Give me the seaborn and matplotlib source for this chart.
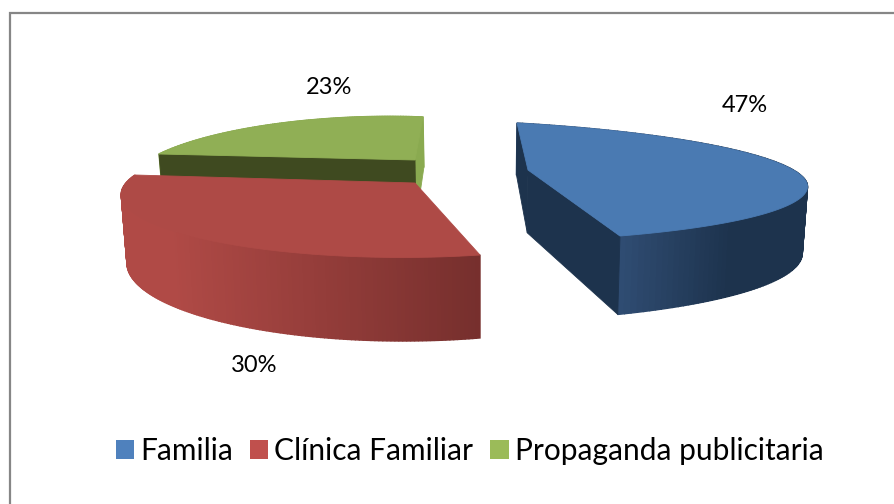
import numpy as np
import seaborn as sns
import matplotlib.pyplot as plt
from matplotlib.colors import LinearSegmentedColormap
from matplotlib.patches import Patch, Polygon

categories = ['Familia', 'Clínica Familiar', 'Propaganda publicitaria']
shares = [47, 30, 23]

sns.set_theme(style='white')
plt.rcParams['font.family'] = ['Lato', 'DejaVu Sans']
palette = sns.color_palette(['#4F81BD', '#C0504D', '#9BBB59'])

EXPLODE = 0.28
# where each slice lands on the page: apex, theta2 end, theta1 end, middle of the arc
view_anchors = [[(528, 170), (517, 123), (620, 236), (795, 171)],
                [(415, 183), (480, 255), (135, 175), (191, 236)],
                [(415, 160), (159, 154), (423, 117), (290, 122)]]
top_colors = ['#4A7AB2', '#AE4A46', '#90AF55']
inner_colors = ['#1D334D', '#AE4A46', '#3F4A20']
end_colors = ['#1D334D', '#AE4A46', '#8AAA50']
wall_ramps = [('#2F4C72', '#1D334D', 620, 730),
              ('#B04A46', '#762F2D', 170, 480),
              ('#8AAA50', '#8AAA50', 0, 895)]

fig = plt.figure(figsize=(8.95, 5.04), dpi=100)
ax = fig.add_axes([0, 0, 1, 1])
ax.set_xlim(0, 895)
ax.set_ylim(504, 0)
ax.axis('off')

# pie is laid out flat on a hidden axes, then projected on the page
pie_ax = fig.add_axes([0, 0, 1, 1])
wedges, _ = pie_ax.pie(shares, startangle=90, counterclock=False, explode=[EXPLODE] * 3)
pie_ax.set_visible(False)


def on_arc(w, deg):
    a = np.radians(deg)
    return np.array(w.center) + w.r * np.c_[np.cos(a), np.sin(a)]


def fit_view(src, dst):
    rows = []
    for (x, y), (u, v) in zip(src, dst):
        rows.append([x, y, 1, 0, 0, 0, -u * x, -u * y, -u])
        rows.append([0, 0, 0, x, y, 1, -v * x, -v * y, -v])
    return np.linalg.svd(np.array(rows))[2][-1].reshape(3, 3)


def project(H, xy):
    xy = np.atleast_2d(xy)
    out = np.c_[xy, np.ones(len(xy))] @ H.T
    return out[:, :2] / out[:, 2:]


HORIZON = -95
DEPTH = 0.237
NADIR_X = 480
LEAN = 0.016


def drop(pts):
    # same points on the underside of the slab
    low = pts.copy()
    low[:, 1] += DEPTH * (pts[:, 1] - HORIZON)
    low[:, 0] += LEAN * (NADIR_X - pts[:, 0])
    return low


for i in [2, 1, 0]:
    w = wedges[i]
    src = [w.center, on_arc(w, [w.theta2])[0], on_arc(w, [w.theta1])[0],
           on_arc(w, [(w.theta1 + w.theta2) / 2])[0]]
    H = fit_view(src, view_anchors[i])

    top = project(H, on_arc(w, np.linspace(w.theta1, w.theta2, 160)))
    low = drop(top)
    apex = project(H, w.center)
    apex_low = drop(apex)

    c0, c1, x0, x1 = wall_ramps[i]
    ramp = LinearSegmentedColormap.from_list('wall', [c0, c1])
    for j in range(len(top) - 1):
        quad = [top[j], top[j + 1], low[j + 1], low[j]]
        tone = ramp(np.clip((top[j, 0] - x0) / (x1 - x0), 0, 1))
        ax.add_patch(Polygon(quad, fc=tone, ec=tone, lw=1.0))

    # the two cut faces
    th1, th2 = top[0], top[-1]
    lo1, lo2 = low[0], low[-1]
    if i == 2:
        faces = [([apex[0], th1, lo1, apex_low[0]], end_colors[i]),
                 ([apex[0], th2, lo2, apex_low[0]], inner_colors[i])]
    elif i == 0:
        faces = [([apex[0], th1, lo1, apex_low[0]], inner_colors[i]),
                 ([apex[0], th2, lo2, apex_low[0]], end_colors[i])]
    else:
        faces = []
    for quad, col in faces:
        ax.add_patch(Polygon(quad, fc=col, ec=col, lw=0.6))
    ax.add_patch(Polygon(np.vstack([apex, top]), fc=top_colors[i], ec=top_colors[i], lw=0.6))

# percent labels
label_pos = [(745, 105), (254, 365), (329, 87)]
for s, (x, y) in zip(shares, label_pos):
    ax.text(x, y, f'{s}%', ha='center', va='center', fontsize=17, color='black')

# chart frame, runs off the page on the right and below
ax.plot([10, 10, 900], [510, 13, 13], color='#868686', lw=1.6, solid_joinstyle='miter')

handles = [Patch(fc=c, ec='none') for c in palette]
ax.legend(handles, categories, ncol=3, loc='center', bbox_to_anchor=(469.5 / 895, 1 - 451 / 504),
          frameon=False, fontsize=21.5, handlelength=0.61, handleheight=0.61,
          handletextpad=0.2, columnspacing=0.58, labelcolor='black')

fig.savefig('out.png', dpi=100)
